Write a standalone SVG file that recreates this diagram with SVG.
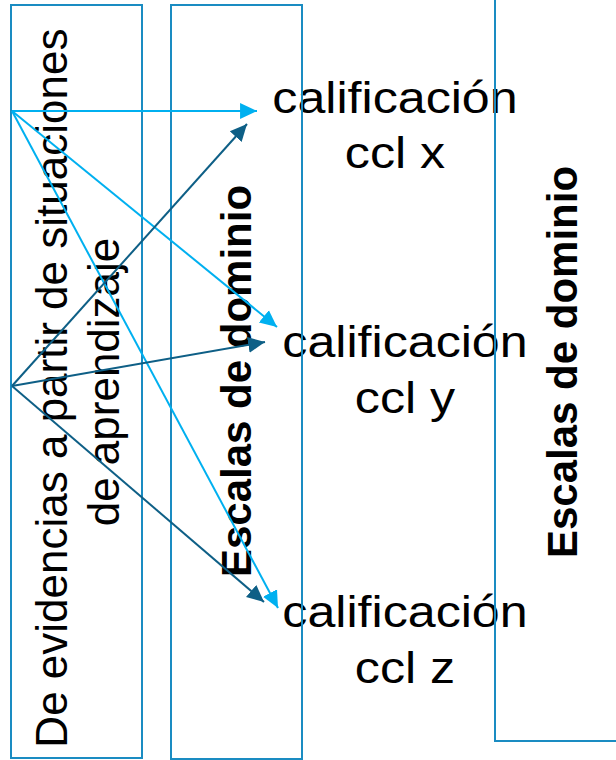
<svg xmlns="http://www.w3.org/2000/svg" width="616" height="760" viewBox="0 0 616 760">
  <style>
    .box { fill: none; stroke: #1a8cc2; stroke-width: 2; }
    .vtext { font-family: "Liberation Sans", Arial, sans-serif; font-size: 44px; fill: #000; text-anchor: middle; }
    .vbold { font-family: "Liberation Sans", Arial, sans-serif; font-size: 42px; font-weight: bold; fill: #000; text-anchor: middle; }
    .label { font-family: "Liberation Sans", Arial, sans-serif; font-size: 44px; fill: #000; text-anchor: middle; }
    .light { stroke: #00b0f0; stroke-width: 2; fill: none; }
    .dark { stroke: #0e5f86; stroke-width: 2; fill: none; }
  </style>
  <defs>
    <marker id="headLight" markerUnits="userSpaceOnUse" markerWidth="18" markerHeight="18" viewBox="0 -8 17 16" refX="16" refY="0" orient="auto">
      <path d="M0,-7.5 L16,0 L0,7.5 z" fill="#00b0f0"/>
    </marker>
    <marker id="headDark" markerUnits="userSpaceOnUse" markerWidth="18" markerHeight="18" viewBox="0 -8 17 16" refX="16" refY="0" orient="auto">
      <path d="M0,-7.5 L16,0 L0,7.5 z" fill="#0e5f86"/>
    </marker>
  </defs>

  <!-- grade labels -->
  <g id="ccl-x">
    <text class="label" transform="translate(395,113) scale(1.14,1)">calificación</text>
    <text class="label" transform="translate(395,168) scale(1.14,1)">ccl x</text>
  </g>
  <g id="ccl-y">
    <text class="label" transform="translate(405,357) scale(1.14,1)">calificación</text>
    <text class="label" transform="translate(405,413) scale(1.14,1)">ccl y</text>
  </g>
  <g id="ccl-z">
    <text class="label" transform="translate(405,627) scale(1.14,1)">calificación</text>
    <text class="label" transform="translate(405,683) scale(1.14,1)">ccl z</text>
  </g>

  <!-- evidence column -->
  <g id="evidencias">
    <rect class="box" x="11" y="5" width="131" height="753"/>
    <text class="vtext" transform="translate(67,382) rotate(-90)">
      <tspan x="0" y="0">De evidencias a partir de situaciones</tspan>
      <tspan x="0" y="52">de aprendizaje</tspan>
    </text>
  </g>

  <!-- domain scale columns -->
  <g id="escalas-1">
    <rect class="box" x="171" y="5" width="131" height="754"/>
    <text class="vbold" transform="translate(251,381) rotate(-90)">Escalas de dominio</text>
  </g>
  <g id="escalas-2">
    <rect class="box" x="495" y="-5" width="200" height="746"/>
    <text class="vbold" transform="translate(577,362) rotate(-90)">Escalas de dominio</text>
  </g>

  <!-- connectors -->
  <g id="connectors">
    <line class="light" x1="12" y1="111" x2="257" y2="111" marker-end="url(#headLight)"/>
    <line class="light" x1="12" y1="111" x2="277" y2="327" marker-end="url(#headLight)"/>
    <line class="light" x1="12" y1="111" x2="278" y2="608" marker-end="url(#headLight)"/>
    <line class="dark" x1="12" y1="386" x2="247" y2="124" marker-end="url(#headDark)"/>
    <line class="dark" x1="12" y1="386" x2="265" y2="342" marker-end="url(#headDark)"/>
    <line class="dark" x1="12" y1="386" x2="264" y2="602" marker-end="url(#headDark)"/>
  </g>
</svg>
